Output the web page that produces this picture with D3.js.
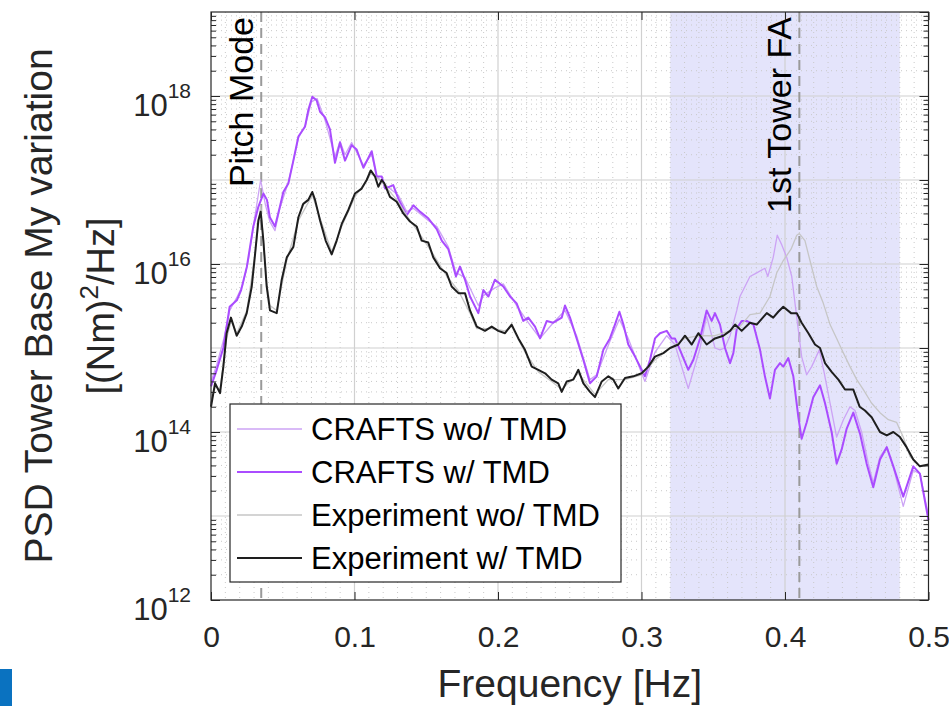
<!DOCTYPE html>
<html><head><meta charset="utf-8">
<script src="https://cdnjs.cloudflare.com/ajax/libs/d3/7.8.5/d3.min.js"></script>
<style>
html,body{margin:0;padding:0;background:#fff;}
svg{display:block;font-family:"Liberation Sans",Arial,sans-serif;}
</style></head>
<body>
<svg id="c" width="949" height="706"></svg>
<script>
// ---------- DATA ----------
const seriesNames = ["CRAFTS wo/ TMD","CRAFTS w/ TMD","Experiment wo/ TMD","Experiment w/ TMD"];
const xTicks = [0,0.1,0.2,0.3,0.4,0.5];
const xTickLabels = ["0","0.1","0.2","0.3","0.4","0.5"];
const yTicks = [1e12,1e14,1e16,1e18];
const yTickExponents = ["12","14","16","18"];
const modeFreqs = [0.035,0.41];
const modeLabels = ["Pitch Mode","1st Tower FA"];
const bandRange = [0.32,0.48];

const craftsWoF = [0,0.004,0.009,0.013,0.018,0.022,0.026,0.030,0.0346,0.038,0.041,0.0446,0.048,0.054,0.061,0.066,0.070,0.074,0.0794,0.0864,0.0899,0.0934,0.098,0.1062,0.112,0.1155,0.121,0.1305,0.1364,0.141,0.1514,0.1573,0.1654,0.1707,0.177,0.1863,0.1898,0.1979,0.2037,0.213,0.2211,0.2293,0.2385,0.2467,0.2548,0.2641,0.2688,0.278,0.2846,0.2908,0.3001,0.3024,0.3094,0.3176,0.3233,0.3326,0.3408,0.3454,0.3512,0.3547,0.358,0.3617,0.3664,0.3686,0.3756,0.380,0.386,0.388,0.3918,0.3946,0.3977,0.4012,0.4047,0.4082,0.4116,0.4151,0.4186,0.4239,0.4274,0.4314,0.436,0.4407,0.4453,0.4488,0.4534,0.4581,0.4615,0.4662,0.4709,0.4755,0.4824,0.4894,0.494,0.5];
const craftsWoV = [4.0e14,6.3e14,1.3e15,2.8e15,4.0e15,5.6e15,1.1e16,3.2e16,1.0e17,5.0e16,3.2e16,2.5e16,4.6e16,9.5e16,3.2e17,4.6e17,8.5e17,9.3e17,5.2e17,1.9e17,2.9e17,2.0e17,2.8e17,1.5e17,2.0e17,1.1e17,8.9e16,6.6e16,4.2e16,4.6e16,3.3e16,2.8e16,1.6e16,7.9e15,6.9e15,3.2e15,4.2e15,5.2e15,5.8e15,3.2e15,2.0e15,1.3e15,2.0e15,2.8e15,1.4e15,4.2e14,4.8e14,1.2e15,2.2e15,1.3e15,5.0e14,4.0e14,8.9e14,1.4e15,1.1e15,3.3e14,1.0e15,2.4e15,1.0e15,9.5e14,1.0e15,1.4e15,2.8e15,4.1e15,7.1e15,7.8e15,8.9e15,7.1e15,1.2e16,2.2e16,1.7e16,1.2e16,7.1e15,2.3e15,7.9e14,4.8e14,6.0e14,9.5e14,5.0e14,2.2e14,8.7e13,1.4e14,2.0e14,1.8e14,1.0e14,4.2e13,2.5e13,5.1e13,6.6e13,3.8e13,1.3e13,3.5e13,3.2e13,1.0e13];

const craftsWF = [0,0.004,0.0086,0.013,0.018,0.021,0.025,0.0295,0.033,0.0365,0.039,0.041,0.0446,0.048,0.0504,0.0539,0.0574,0.0609,0.0655,0.0678,0.0706,0.0736,0.076,0.0794,0.0829,0.0864,0.0899,0.0934,0.098,0.1015,0.1062,0.112,0.1155,0.119,0.1213,0.127,0.1305,0.1364,0.141,0.1456,0.1514,0.1573,0.1608,0.1654,0.1677,0.1707,0.1735,0.177,0.1805,0.1863,0.1898,0.1933,0.1979,0.2037,0.2084,0.213,0.2176,0.2211,0.2258,0.2293,0.234,0.2385,0.2444,0.2467,0.2502,0.2548,0.2595,0.2641,0.2688,0.2734,0.278,0.2815,0.2846,0.2874,0.2908,0.2955,0.3001,0.3024,0.3059,0.3094,0.3129,0.3176,0.321,0.3233,0.3268,0.3326,0.3361,0.3408,0.3454,0.3489,0.3512,0.3547,0.3582,0.3617,0.364,0.3664,0.3698,0.3733,0.378,0.3826,0.386,0.3895,0.393,0.3965,0.3988,0.4023,0.4058,0.4093,0.4116,0.4151,0.4197,0.4244,0.4279,0.4325,0.436,0.4395,0.443,0.4476,0.4523,0.4569,0.4615,0.4662,0.4709,0.4755,0.4824,0.4894,0.494,0.5];
const craftsWV = [3.5e14,5.5e14,1.0e15,3.1e15,3.7e15,4.9e15,9.3e15,2.8e16,4.8e16,6.9e16,5.8e16,3.6e16,2.8e16,4.8e16,7.2e16,9.1e16,1.7e17,3.3e17,4.3e17,6.8e17,9.8e17,8.9e17,6.5e17,5.6e17,4.0e17,1.6e17,2.8e17,1.7e17,2.6e17,2.3e17,1.4e17,2.2e17,1.1e17,1.1e17,7.9e16,8.7e16,6.0e16,3.8e16,5.0e16,4.2e16,3.5e16,2.6e16,1.9e16,1.5e16,1.1e16,7.1e15,9.3e15,6.5e15,4.1e15,2.6e15,4.9e15,4.1e15,6.5e15,5.4e15,4.1e15,3.4e15,2.1e15,2.3e15,1.8e15,1.3e15,2.1e15,2.0e15,2.3e15,3.2e15,2.3e15,1.3e15,7.2e14,3.8e14,4.6e14,9.5e14,1.3e15,1.9e15,2.7e15,1.9e15,1.1e15,7.9e14,5.5e14,4.6e14,7.2e14,1.3e15,1.5e15,1.6e15,1.3e15,1.3e15,9.5e14,5.5e14,7.2e14,1.3e15,2.8e15,2.1e15,2.6e15,1.9e15,1.0e15,6.6e14,8.7e14,1.7e15,2.1e15,2.1e15,1.9e15,9.5e14,4.6e14,2.5e14,5.5e14,6.6e14,6.0e14,7.6e14,4.6e14,1.5e14,8.3e13,1.3e14,2.6e14,3.6e14,2.2e14,1.0e14,4.2e13,6.2e13,1.1e14,1.7e14,9.5e13,4.2e13,2.2e13,4.7e13,6.6e13,3.9e13,1.7e13,3.9e13,3.2e13,8.9e12];

const expWoF = [0,0.003,0.0063,0.0109,0.014,0.018,0.025,0.0307,0.0346,0.0388,0.0411,0.0458,0.0528,0.0609,0.0706,0.076,0.0841,0.0911,0.1003,0.1085,0.1113,0.119,0.1294,0.1387,0.1468,0.1549,0.1642,0.1724,0.1805,0.1852,0.1956,0.2049,0.2095,0.2188,0.2281,0.2374,0.2444,0.256,0.2676,0.2769,0.2885,0.3001,0.3094,0.3199,0.3303,0.3396,0.3512,0.3617,0.3686,0.3756,0.3826,0.3895,0.3942,0.3988,0.4042,0.4082,0.41,0.4139,0.4174,0.4221,0.4267,0.4314,0.436,0.4407,0.4453,0.45,0.4546,0.4604,0.4662,0.472,0.4778,0.4824,0.4871,0.494,0.5];
const expWoV = [2.2e14,3.5e14,3.2e14,1.3e15,2.1e15,1.5e15,2.8e15,1.3e16,5.0e16,6.0e15,3.2e15,2.8e15,1.1e16,3.3e16,6.6e16,3.5e16,1.4e16,2.8e16,6.3e16,1.0e17,1.2e17,9.5e16,5.8e16,3.3e16,2.1e16,1.3e16,7.2e15,4.8e15,2.6e15,1.7e15,1.7e15,1.6e15,1.8e15,8.9e14,5.2e14,4.0e14,3.2e14,5.0e14,2.8e14,4.2e14,4.2e14,4.8e14,7.2e14,1.0e15,1.3e15,1.4e15,1.4e15,1.6e15,1.8e15,2.5e15,2.6e15,4.1e15,7.8e15,1.1e16,1.5e16,2.2e16,2.3e16,1.9e16,1.1e16,5.4e15,3.4e15,1.9e15,1.3e15,8.7e14,6.0e14,4.2e14,3.2e14,2.2e14,1.7e14,1.4e14,1.3e14,8.7e13,5.1e13,3.9e13,4.0e13];

const expWF = [0,0.0028,0.0063,0.0086,0.0109,0.0139,0.0179,0.0214,0.0249,0.0284,0.0307,0.033,0.0346,0.0365,0.0388,0.0411,0.0458,0.0493,0.0528,0.0574,0.0609,0.0643,0.0678,0.0706,0.0725,0.076,0.0799,0.0841,0.0876,0.0911,0.0957,0.1003,0.105,0.1085,0.1113,0.1143,0.1166,0.119,0.1208,0.1247,0.1294,0.134,0.1387,0.1433,0.1468,0.1514,0.1549,0.1596,0.1642,0.1677,0.1724,0.177,0.1805,0.1852,0.1909,0.1956,0.2002,0.2049,0.2095,0.2142,0.2188,0.2235,0.2281,0.2328,0.2374,0.242,0.2444,0.2479,0.2525,0.256,0.2595,0.2641,0.2676,0.2723,0.2769,0.2804,0.2838,0.2885,0.2943,0.3001,0.3048,0.3094,0.3152,0.3199,0.3257,0.3303,0.335,0.3396,0.3454,0.3512,0.357,0.3617,0.3652,0.3698,0.3756,0.3803,0.3873,0.3918,0.3953,0.3988,0.4042,0.4082,0.4116,0.4163,0.4209,0.4244,0.4279,0.4325,0.4372,0.4418,0.4476,0.452,0.4557,0.4604,0.4662,0.4709,0.4755,0.4801,0.4847,0.4894,0.494,0.5];
const expWV = [2.0e14,3.8e14,2.9e14,6.0e14,1.5e15,2.3e15,1.4e15,1.8e15,2.6e15,5.4e15,1.3e16,3.3e16,4.2e16,1.9e16,5.4e15,2.8e15,2.6e15,6.5e15,1.2e16,1.6e16,3.6e16,5.2e16,5.8e16,7.2e16,5.8e16,3.3e16,1.9e16,1.3e16,1.9e16,3.0e16,4.4e16,6.9e16,7.9e16,1.0e17,1.3e17,1.1e17,8.3e16,1.0e17,9.1e16,6.3e16,5.5e16,4.0e16,3.2e16,2.8e16,1.9e16,1.8e16,1.2e16,8.9e15,7.8e15,5.4e15,4.5e15,4.5e15,2.8e15,1.8e15,1.6e15,1.8e15,1.6e15,1.5e15,1.9e15,1.3e15,9.5e14,6.0e14,5.5e14,5.0e14,4.2e14,3.8e14,3.0e14,4.0e14,4.2e14,5.5e14,3.8e14,3.0e14,2.6e14,4.0e14,4.6e14,4.2e14,3.3e14,4.4e14,4.6e14,5.0e14,6.0e14,7.9e14,8.7e14,1.0e15,1.1e15,1.4e15,1.1e15,1.5e15,1.1e15,1.3e15,1.4e15,1.6e15,1.9e15,1.6e15,2.0e15,1.9e15,2.6e15,2.3e15,2.7e15,3.1e15,2.6e15,2.6e15,2.0e15,1.5e15,1.1e15,1.0e15,6.6e14,5.2e14,4.2e14,3.2e14,3.2e14,2.0e14,1.8e14,1.5e14,1.0e14,9.1e13,1.0e14,8.7e13,6.6e13,4.7e13,3.9e13,4.1e13];

const seriesFreqs = [craftsWoF, craftsWF, expWoF, expWF];
const seriesVals = [craftsWoV, craftsWV, expWoV, expWV];
const seriesColors = ["#cca3f5","#aa4cff","#c6c6c6","#1e1e1e"];
const seriesWidths = [1.3,2,1.3,2];

// ---------- LAYOUT ----------
const L = 211, R = 928.5, T = 12, B = 600;
const svg = d3.select("#c");
const x = d3.scaleLinear().domain([0,0.5]).range([L,R]);
const y = d3.scaleLog().domain([1e12,1e19]).range([B,T]);
const axisColor = "#262626";

// shaded band
svg.append("rect").attr("x",x(bandRange[0])).attr("y",T)
  .attr("width",x(bandRange[1])-x(bandRange[0])).attr("height",B-T)
  .attr("fill","#e4e4fb");

// minor grid
const minorX = d3.range(1,50).map(i=>i/100).filter(v=>Math.abs(v*10-Math.round(v*10))>1e-6);
const minorY = [];
for(let e=12;e<19;e++) for(let m=2;m<=9;m++) minorY.push(m*Math.pow(10,e));
const grid = svg.append("g");
grid.selectAll(".mx").data(minorX).join("line")
  .attr("x1",d=>x(d)).attr("x2",d=>x(d)).attr("y1",T).attr("y2",B)
  .attr("stroke","#c9c9c9").attr("stroke-width",1).attr("stroke-dasharray","1,4");
grid.selectAll(".my").data(minorY).join("line")
  .attr("x1",L).attr("x2",R).attr("y1",d=>y(d)).attr("y2",d=>y(d))
  .attr("stroke","#c9c9c9").attr("stroke-width",1).attr("stroke-dasharray","1,4");
// major grid
const majorY = d3.range(12,20).map(e=>Math.pow(10,e));
grid.selectAll(".gx").data(xTicks.slice(1,-1)).join("line")
  .attr("x1",d=>x(d)).attr("x2",d=>x(d)).attr("y1",T).attr("y2",B)
  .attr("stroke","#d0d0d0").attr("stroke-width",1.2);
grid.selectAll(".gy").data(majorY.slice(1,-1)).join("line")
  .attr("x1",L).attr("x2",R).attr("y1",d=>y(d)).attr("y2",d=>y(d))
  .attr("stroke","#d0d0d0").attr("stroke-width",1.2);

// mode lines
svg.selectAll(".mode").data(modeFreqs).join("line")
  .attr("x1",d=>x(d)).attr("x2",d=>x(d)).attr("y1",T).attr("y2",B)
  .attr("stroke","#9a9a9a").attr("stroke-width",2).attr("stroke-dasharray","10,6");

// series
const line = d3.line().x(d=>x(d[0])).y(d=>y(d[1]));
const plot = svg.append("g");
seriesNames.forEach((n,i)=>{
  const pts = seriesFreqs[i].map((f,j)=>[f,seriesVals[i][j]]);
  plot.append("path").datum(pts).attr("d",line).attr("fill","none")
    .attr("stroke",seriesColors[i]).attr("stroke-width",seriesWidths[i])
    .attr("stroke-linejoin","round");
});

// mode labels (rotated)
svg.selectAll(".ml").data(modeFreqs).join("text")
  .attr("transform",d=>`translate(${x(d)-8},17) rotate(-90)`)
  .attr("text-anchor","end").attr("font-size",34).attr("fill","#000")
  .text((d,i)=>modeLabels[i]);

// axes box
svg.append("rect").attr("x",L).attr("y",T).attr("width",R-L).attr("height",B-T)
  .attr("fill","none").attr("stroke",axisColor).attr("stroke-width",1.2);

// x axis bottom
const xAxis = d3.axisBottom(x).tickValues(xTicks).tickSizeInner(-8).tickSizeOuter(0)
  .tickPadding(26).tickFormat((d,i)=>xTickLabels[i]);
const gx = svg.append("g").attr("transform",`translate(0,${B})`).call(xAxis);
gx.select(".domain").remove();
gx.selectAll("line").attr("stroke",axisColor);
gx.selectAll("text").attr("font-size",30).attr("fill","#262626").attr("font-family","Liberation Sans, Arial, sans-serif");
// x axis top ticks
const gxt = svg.append("g").attr("transform",`translate(0,${T})`)
  .call(d3.axisTop(x).tickValues(xTicks).tickSizeInner(-8).tickSizeOuter(0).tickFormat(""));
gxt.select(".domain").remove(); gxt.selectAll("line").attr("stroke",axisColor);

// y axis
const yAxis = d3.axisLeft(y).tickValues(yTicks).tickSizeInner(-9).tickSizeOuter(0).tickFormat("");
const gy = svg.append("g").attr("transform",`translate(${L},0)`).call(yAxis);
gy.select(".domain").remove(); gy.selectAll("line").attr("stroke",axisColor);
gy.selectAll(".tick").each(function(d,i){
  const t = d3.select(this).append("text").attr("x",-20).attr("y",19)
    .attr("text-anchor","end").attr("fill","#262626").attr("font-size",31)
    .attr("font-family","Liberation Sans, Arial, sans-serif");
  t.append("tspan").text("10");
  t.append("tspan").attr("dy",-18).attr("font-size",21).text(yTickExponents[i]);
});
const yMinor = svg.append("g").attr("transform",`translate(${L},0)`)
  .call(d3.axisLeft(y).tickValues(minorY).tickSizeInner(-5).tickSizeOuter(0).tickFormat(""));
yMinor.select(".domain").remove(); yMinor.selectAll("line").attr("stroke",axisColor);
const yR = svg.append("g").attr("transform",`translate(${R},0)`)
  .call(d3.axisRight(y).tickValues(majorY).tickSizeInner(-9).tickSizeOuter(0).tickFormat(""));
yR.select(".domain").remove(); yR.selectAll("line").attr("stroke",axisColor);
const yRm = svg.append("g").attr("transform",`translate(${R},0)`)
  .call(d3.axisRight(y).tickValues(minorY).tickSizeInner(-5).tickSizeOuter(0).tickFormat(""));
yRm.select(".domain").remove(); yRm.selectAll("line").attr("stroke",axisColor);

// axis titles
svg.append("text").attr("x",(L+R)/2).attr("y",697).attr("text-anchor","middle")
  .attr("font-size",39).attr("fill","#262626").text("Frequency [Hz]");
const yl = svg.append("text").attr("transform",`translate(52,${(T+B)/2}) rotate(-90)`)
  .attr("text-anchor","middle").attr("font-size",39).attr("fill","#262626");
yl.text("PSD Tower Base My variation");
const yl2 = svg.append("text").attr("transform",`translate(114,${(T+B)/2}) rotate(-90)`)
  .attr("text-anchor","middle").attr("font-size",38).attr("fill","#262626");
yl2.append("tspan").text("[(Nm)");
yl2.append("tspan").attr("dy",-16).attr("font-size",26).text("2");
yl2.append("tspan").attr("dy",16).text("/Hz]");

// legend
const lg = svg.append("g");
lg.append("rect").attr("x",230).attr("y",404).attr("width",391).attr("height",178)
  .attr("fill","#fff").attr("stroke",axisColor).attr("stroke-width",1.2);
const rowY = d3.scalePoint().domain(seriesNames).range([429,558]);
seriesNames.forEach((n,i)=>{
  const yy = rowY(n);
  lg.append("line").attr("x1",237).attr("x2",302).attr("y1",yy).attr("y2",yy)
    .attr("stroke",seriesColors[i]).attr("stroke-width",seriesWidths[i]);
  lg.append("text").attr("x",311).attr("y",yy+11).attr("font-size",31).attr("fill","#000").text(n);
});

// corner mark
svg.append("rect").attr("x",0).attr("y",669).attr("width",12).attr("height",37).attr("fill","#0a72c0");
</script>
</body></html>
